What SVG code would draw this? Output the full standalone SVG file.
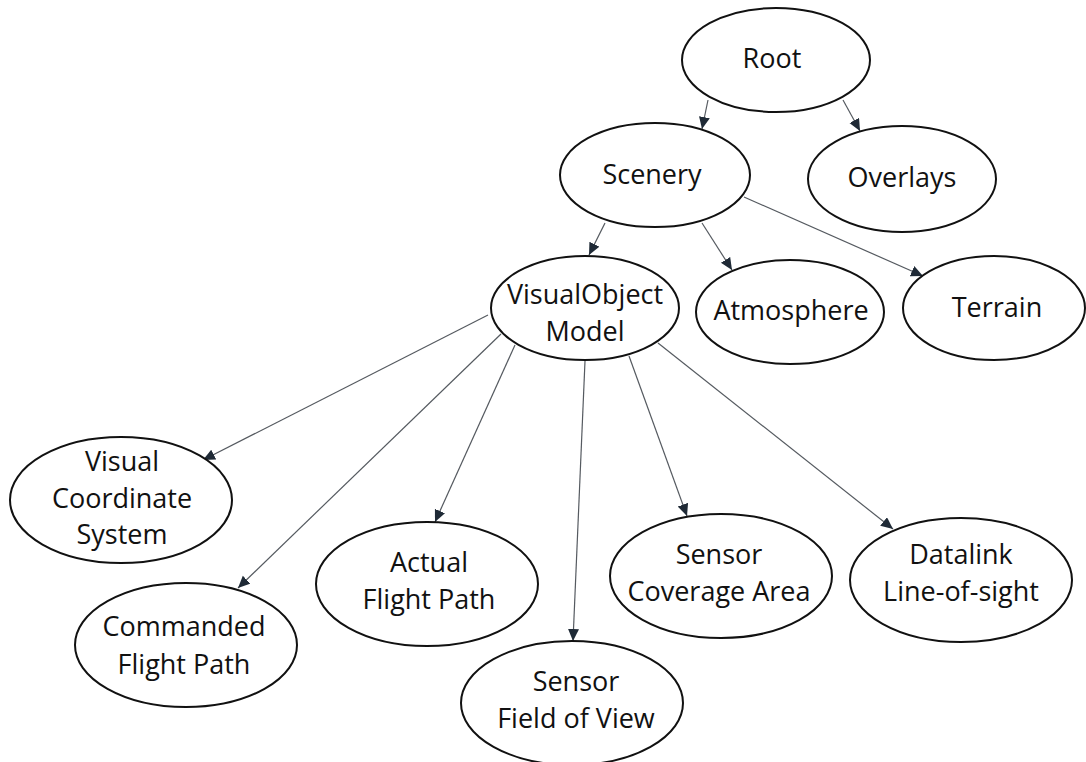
<svg xmlns="http://www.w3.org/2000/svg" width="1086" height="762" viewBox="0 0 1086 762">
  <style>
    .node ellipse { fill: #ffffff; stroke: #111111; stroke-width: 2; }
    .node text { font-family: "Open Sans", "Noto Sans", "Liberation Sans", sans-serif; font-size: 27px; fill: #111111; text-anchor: middle; }
    .edge { stroke: #555a60; stroke-width: 1.2; fill: none; marker-end: url(#arrow); }
  </style>
  <defs>
    <marker id="arrow" markerUnits="userSpaceOnUse" markerWidth="14" markerHeight="12" refX="12" refY="5.5" orient="auto">
      <path d="M0,0 L12,5.5 L0,11 z" fill="#1f2a36"/>
    </marker>
  </defs>
  <rect width="1086" height="762" fill="#ffffff"/>

  <g id="connectors">
    <line class="edge" x1="708" y1="100" x2="702" y2="129"/>
    <line class="edge" x1="843" y1="100" x2="860" y2="131"/>
    <line class="edge" x1="605" y1="223" x2="589" y2="255"/>
    <line class="edge" x1="702" y1="223" x2="732" y2="270"/>
    <line class="edge" x1="744" y1="197" x2="923" y2="276"/>
    <line class="edge" x1="488" y1="315" x2="203" y2="460"/>
    <line class="edge" x1="501" y1="334" x2="238" y2="588"/>
    <line class="edge" x1="515" y1="345" x2="435" y2="522"/>
    <line class="edge" x1="585" y1="361" x2="573" y2="641"/>
    <line class="edge" x1="629" y1="356" x2="687" y2="516"/>
    <line class="edge" x1="658" y1="343" x2="893" y2="529"/>
  </g>

  <g id="root" class="node">
    <ellipse cx="776" cy="60" rx="94" ry="52"/>
    <text x="772" y="68">Root</text>
  </g>
  <g id="scenery" class="node">
    <ellipse cx="655" cy="175" rx="95" ry="52"/>
    <text x="652" y="184">Scenery</text>
  </g>
  <g id="overlays" class="node">
    <ellipse cx="902" cy="179" rx="94" ry="53"/>
    <text x="902" y="187">Overlays</text>
  </g>
  <g id="visual-object-model" class="node">
    <ellipse cx="585" cy="308" rx="94" ry="52"/>
    <text x="585" y="304">VisualObject</text>
    <text x="585" y="341">Model</text>
  </g>
  <g id="atmosphere" class="node">
    <ellipse cx="790" cy="312" rx="94" ry="52"/>
    <text x="791" y="320">Atmosphere</text>
  </g>
  <g id="terrain" class="node">
    <ellipse cx="994" cy="308" rx="91" ry="52"/>
    <text x="997" y="317">Terrain</text>
  </g>
  <g id="visual-coordinate-system" class="node">
    <ellipse cx="121" cy="500" rx="111" ry="63"/>
    <text x="122" y="471">Visual</text>
    <text x="122" y="508">Coordinate</text>
    <text x="122" y="544">System</text>
  </g>
  <g id="commanded-flight-path" class="node">
    <ellipse cx="186" cy="645" rx="111" ry="62"/>
    <text x="184" y="636">Commanded</text>
    <text x="184" y="674">Flight Path</text>
  </g>
  <g id="actual-flight-path" class="node">
    <ellipse cx="427" cy="584" rx="111" ry="62"/>
    <text x="429" y="572">Actual</text>
    <text x="429" y="609">Flight Path</text>
  </g>
  <g id="sensor-field-of-view" class="node">
    <ellipse cx="572" cy="703" rx="111" ry="62"/>
    <text x="576" y="691">Sensor</text>
    <text x="576" y="728">Field of View</text>
  </g>
  <g id="sensor-coverage-area" class="node">
    <ellipse cx="721" cy="576" rx="111" ry="62"/>
    <text x="719" y="564">Sensor</text>
    <text x="719" y="601">Coverage Area</text>
  </g>
  <g id="datalink-line-of-sight" class="node">
    <ellipse cx="961" cy="580" rx="111" ry="62"/>
    <text x="961" y="564">Datalink</text>
    <text x="961" y="601">Line-of-sight</text>
  </g>
</svg>
